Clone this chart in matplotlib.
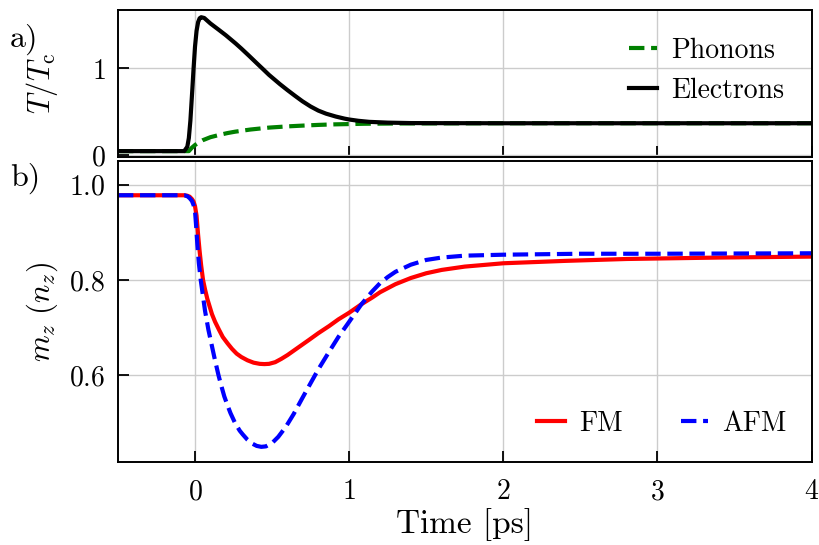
import matplotlib
matplotlib.use("Agg")
import matplotlib.pyplot as plt

plt.rcParams["font.family"] = "serif"
plt.rcParams["font.serif"] = ["cmr10"]
plt.rcParams["mathtext.fontset"] = "cm"
plt.rcParams["axes.formatter.use_mathtext"] = True

# top panel: temperatures (T/Tc) vs time [ps]
t_el = [-0.5, -0.07, -0.05, -0.04, -0.03, -0.017, -0.01, 0.0, 0.01, 0.02, 0.03,
        0.04, 0.06, 0.1, 0.156, 0.2, 0.264, 0.3, 0.35, 0.4, 0.44, 0.48, 0.55,
        0.6, 0.65, 0.697, 0.75, 0.8, 0.85, 0.913, 0.97, 1.0, 1.06, 1.13, 1.25,
        1.4, 1.6, 2.0, 3.0, 4.0]
electrons = [0.05, 0.05, 0.1, 0.2, 0.4, 0.77, 0.98, 1.25, 1.43, 1.53, 1.575,
             1.587, 1.578, 1.515, 1.44, 1.38, 1.285, 1.228, 1.145, 1.06, 0.993, 0.925, 0.82,
             0.75, 0.683, 0.622, 0.562, 0.515, 0.48, 0.447, 0.423, 0.413, 0.398, 0.386, 0.377,
             0.372, 0.371, 0.37, 0.37, 0.37]

t_ph = [-0.5, -0.04, -0.02, 0.0, 0.02, 0.05, 0.1, 0.16, 0.21, 0.26, 0.36, 0.48,
        0.6, 0.7, 0.8, 0.9, 1.1, 1.4, 2.0, 3.0, 4.0]
phonons = [0.05, 0.05, 0.09, 0.12, 0.145, 0.175, 0.21, 0.237, 0.257, 0.273, 0.298, 0.32,
           0.334, 0.343, 0.351, 0.357, 0.364, 0.368, 0.37, 0.37, 0.37]

# bottom panel: magnetisation
t_fm = [-0.5, -0.07, -0.05, -0.035, -0.02, -0.01, 0.0, 0.01, 0.02, 0.03, 0.04,
        0.052, 0.065, 0.08, 0.095, 0.11, 0.13, 0.156, 0.18, 0.21, 0.24, 0.27, 0.3,
        0.34, 0.38, 0.42, 0.45, 0.48, 0.52, 0.56, 0.6, 0.67, 0.74, 0.8, 0.87, 0.93,
        1.0, 1.08, 1.15, 1.2, 1.3, 1.4, 1.5, 1.6, 1.75, 2.0, 2.4, 2.8, 3.4, 4.0]
fm = [0.978, 0.978, 0.977, 0.975, 0.970, 0.965, 0.955, 0.935, 0.895, 0.86, 0.83,
      0.80, 0.78, 0.76, 0.744, 0.728, 0.712, 0.695, 0.680, 0.667, 0.655, 0.645, 0.638,
      0.631, 0.626, 0.6235, 0.623, 0.6235, 0.627, 0.634, 0.642, 0.658, 0.674, 0.688, 0.703, 0.717,
      0.731, 0.749, 0.763, 0.774, 0.791, 0.804, 0.814, 0.821, 0.828, 0.835, 0.840, 0.844, 0.847, 0.849]

t_afm = [-0.5, -0.07, -0.05, -0.035, -0.02, -0.01, 0.0, 0.008, 0.015, 0.025, 0.037,
         0.05, 0.065, 0.087, 0.105, 0.125, 0.152, 0.17, 0.19, 0.21, 0.23, 0.26, 0.29,
         0.31, 0.34, 0.37, 0.4, 0.43, 0.46, 0.5, 0.54, 0.589, 0.64, 0.697, 0.75, 0.8,
         0.87, 0.93, 1.0, 1.08, 1.15, 1.2, 1.25, 1.3, 1.4, 1.5, 1.6, 1.75, 2.0, 2.5,
         3.0, 4.0]
afm = [0.978, 0.978, 0.976, 0.972, 0.966, 0.958, 0.945, 0.91, 0.875, 0.835, 0.80,
       0.77, 0.735, 0.695, 0.668, 0.638, 0.60, 0.578, 0.555, 0.537, 0.52, 0.499, 0.483,
       0.475, 0.464, 0.456, 0.451, 0.449, 0.450, 0.457, 0.47, 0.491, 0.518, 0.552, 0.583, 0.612,
       0.649, 0.68, 0.712, 0.749, 0.776, 0.793, 0.806, 0.817, 0.832, 0.842, 0.847, 0.851, 0.853, 0.855,
       0.855, 0.856]

fig = plt.figure(figsize=(8.19, 5.45), dpi=100)
ax1 = fig.add_axes([0.144, 0.712, 0.847, 0.270])
ax2 = fig.add_axes([0.144, 0.152, 0.847, 0.553])

ax1.plot(t_ph, phonons, "--", color="green", lw=3, label="Phonons")
ax1.plot(t_el, electrons, "-", color="black", lw=3, label="Electrons")
ax1.set_xlim(-0.5, 4)
ax1.set_ylim(-0.017, 1.672)
ax1.set_yticks([0, 1])
ax1.set_xticks([0, 1, 2, 3, 4])
ax1.set_xticklabels([])
ax1.set_ylabel(r"$T/T_\mathrm{c}$", fontsize=22)
ax1.legend(loc="upper right", frameon=False, fontsize=20, handlelength=1.0,
           handletextpad=0.5, borderaxespad=0.6)

ax2.plot(t_fm, fm, "-", color="red", lw=3, label="FM")
ax2.plot(t_afm, afm, "--", color="blue", lw=3, label="AFM")
ax2.set_xlim(-0.5, 4)
ax2.set_ylim(0.4168, 1.0505)
ax2.set_yticks([0.6, 0.8, 1.0])
ax2.set_xticks([0, 1, 2, 3, 4])
ax2.set_ylabel(r"$m_z\ (n_z)$", fontsize=22)
ax2.set_xlabel("Time [ps]", fontsize=24, labelpad=2)
ax2.legend(loc="lower right", frameon=False, fontsize=20, ncol=2,
           handlelength=1.0, handletextpad=0.5, columnspacing=2.1,
           borderaxespad=0.5)

for ax in (ax1, ax2):
    ax.grid(True, color="#cccccc", lw=1.0)
    ax.tick_params(direction="in", length=8, width=1.3, labelsize=20,
                   top=False, right=False, pad=9)
    for s in ax.spines.values():
        s.set_linewidth(1.4)
    ax.yaxis.set_label_coords(-0.083, 0.5)
ax2.tick_params(axis="x", pad=12)

fig.text(0.012, 0.927, "a)", fontsize=23, va="center")
fig.text(0.012, 0.673, "b)", fontsize=23, va="center")

fig.savefig("out.png", dpi=100)
